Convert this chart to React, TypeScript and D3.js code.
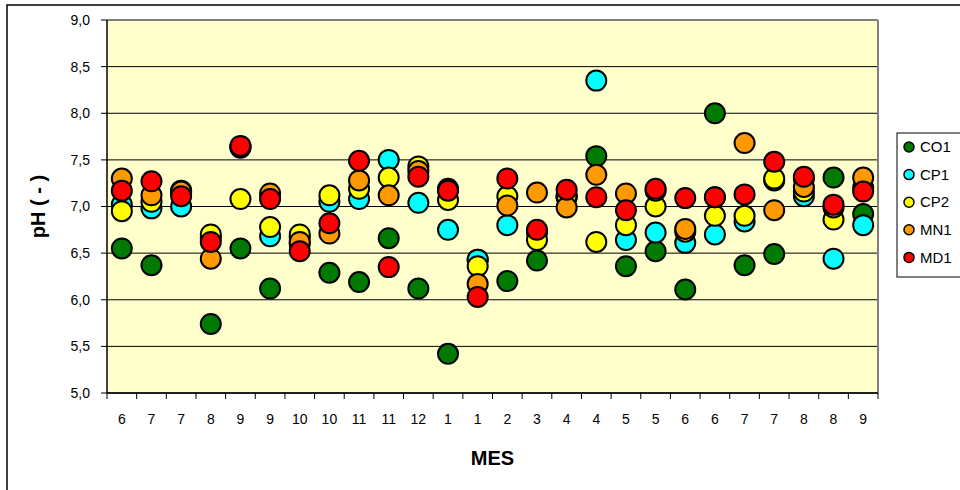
import React from "react";
import * as d3 from "d3";

const months = ["6","7","7","8","9","9","10","10","11","11","12","1","1","2","3","4","4","5","5","6","6","7","7","8","8","9"];
const seriesNames = ["CO1", "CP1", "CP2", "MN1", "MD1"];
const seriesColors = ["#007A00", "#00FFFF", "#FFFF00", "#FF9900", "#FF0000"];
const CO1 = [6.55, 6.37, 7.17, 5.74, 6.55, 6.12, 6.67, 6.29, 6.19, 6.66, 6.12, 5.42, 6.43, 6.20, 6.42, 7.10, 7.54, 6.36, 6.52, 6.11, 8.00, 6.37, 6.49, 7.30, 7.31, 6.92];
const CP1 = [7.02, 6.98, 7.00, 6.66, 7.63, 6.68, 6.60, 7.05, 7.08, 7.50, 7.04, 6.75, 6.43, 6.80, 6.72, 7.10, 8.35, 6.64, 6.72, 6.61, 6.70, 6.84, 7.28, 7.11, 6.44, 6.80];
const CP2 = [6.95, 7.05, 7.15, 6.70, 7.08, 6.78, 6.70, 7.12, 7.19, 7.31, 7.43, 7.07, 6.36, 7.11, 6.64, 7.12, 6.62, 6.80, 7.00, 6.73, 6.90, 6.90, 7.30, 7.16, 6.86, 7.20];
const MN1 = [7.30, 7.12, 7.16, 6.44, 7.64, 7.14, 6.62, 6.71, 7.28, 7.12, 7.38, 7.19, 6.17, 7.01, 7.15, 6.99, 7.34, 7.14, 7.17, 6.76, 7.10, 7.68, 6.96, 7.21, 6.99, 7.31];
const MD1 = [7.17, 7.27, 7.11, 6.62, 7.65, 7.08, 6.52, 6.82, 7.49, 6.35, 7.32, 7.17, 6.03, 7.30, 6.75, 7.18, 7.10, 6.96, 7.19, 7.09, 7.10, 7.13, 7.48, 7.32, 7.02, 7.16];
const seriesValues = [CO1, CP1, CP2, MN1, MD1];
const yTicks = [5.0, 5.5, 6.0, 6.5, 7.0, 7.5, 8.0, 8.5, 9.0];

const FONT = "Arial, 'Liberation Sans', sans-serif";

export default function App() {
  const left = 107, right = 878, top = 20, bottom = 393;
  const idx = months.map((_, i) => i);
  const x = d3.scaleBand<number>().domain(idx).range([left, right]);
  const y = d3.scaleLinear().domain([5, 9]).range([bottom, top]);
  const fmt = (v: number) => v.toFixed(1).replace(".", ",");
  const edges = d3.range(months.length + 1).map((i) => left + i * x.step());

  return (
    <svg width={960} height={490} style={{ position: "absolute", left: 0, top: 0, background: "#fff" }} fontFamily={FONT}>
      <rect x={7} y={5} width={960} height={500} fill="#fff" stroke="#000" strokeWidth={1.5} />
      <rect x={left} y={top} width={right - left} height={bottom - top} fill="#FFFFCC" />
      {yTicks.map((t) => (
        <line key={"g" + t} x1={left} x2={right} y1={y(t)} y2={y(t)} stroke="#000" strokeWidth={1} />
      ))}
      <line x1={right} x2={right} y1={top} y2={bottom} stroke="#808080" strokeWidth={2} />
      <line x1={left} x2={right} y1={top} y2={top} stroke="#808080" strokeWidth={1} />
      <line x1={left} x2={left} y1={top} y2={bottom} stroke="#000" strokeWidth={1.5} />
      <line x1={left} x2={right} y1={bottom} y2={bottom} stroke="#000" strokeWidth={1.5} />
      {yTicks.map((t) => (
        <g key={"yt" + t}>
          <line x1={left - 6} x2={left} y1={y(t)} y2={y(t)} stroke="#000" />
          <text x={90} y={y(t)} dy="0.35em" textAnchor="end" fontSize={14}>{fmt(t)}</text>
        </g>
      ))}
      {edges.map((e, i) => (
        <line key={"xt" + i} x1={e} x2={e} y1={bottom} y2={bottom + 6} stroke="#000" />
      ))}
      {months.map((m, i) => (
        <text key={"xl" + i} x={(x(i) as number) + x.bandwidth() / 2} y={419} dy="0.35em" textAnchor="middle" fontSize={14}>{m}</text>
      ))}
      <text x={(left + right) / 2} y={458} dy="0.35em" textAnchor="middle" fontSize={20} fontWeight="bold">MES</text>
      <text transform={`translate(38,${(top + bottom) / 2}) rotate(-90)`} dy="0.35em" textAnchor="middle" fontSize={20} fontWeight="bold">pH ( - )</text>
      {seriesValues.map((vals, s) => (
        <g key={"s" + s}>
          {vals.map((v, i) => (
            <circle key={i} cx={(x(i) as number) + x.bandwidth() / 2} cy={y(v)} r={10} fill={seriesColors[s]} stroke="#000" strokeWidth={2} />
          ))}
        </g>
      ))}
      <rect x={897} y={133} width={70} height={144} fill="#fff" stroke="#000" strokeWidth={1} />
      {seriesNames.map((n, s) => (
        <g key={"lg" + n} transform={`translate(0,${147 + s * 27.6})`}>
          <circle cx={909} cy={0} r={5} fill={seriesColors[s]} stroke="#000" strokeWidth={1.5} />
          <text x={920} y={0} dy="0.35em" fontSize={15}>{n}</text>
        </g>
      ))}
    </svg>
  );
}
